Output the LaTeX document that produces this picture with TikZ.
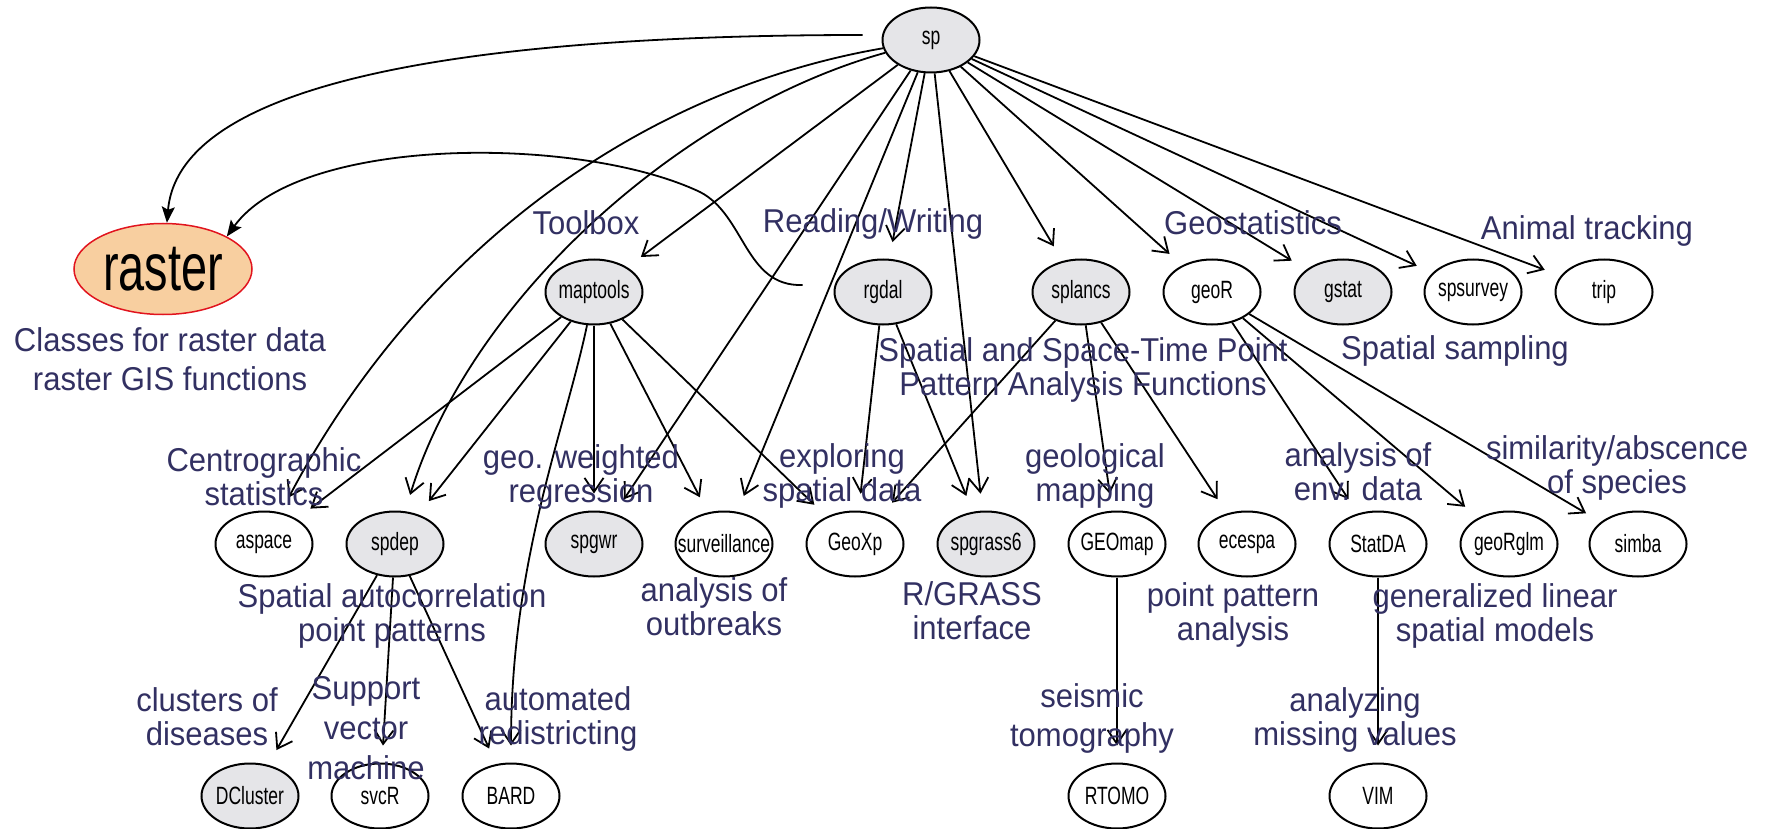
\documentclass[tikz,border=0pt]{standalone}
\usepackage{fontspec}
\setmainfont{Liberation Sans}
\newfontfamily\nodefont[FakeStretch=0.7]{Liberation Sans}
\newfontfamily\lblfont[FakeStretch=0.94]{Liberation Sans}
\usetikzlibrary{shapes.geometric,arrows.meta}
\definecolor{lblblue}{RGB}{50,48,98}
\definecolor{pkggray}{RGB}{229,229,232}
\definecolor{rasterfill}{RGB}{248,207,160}
\definecolor{rasterred}{RGB}{225,20,30}

\begin{document}
\begin{tikzpicture}[x=1pt,y=-1pt,
    pkg/.style={ellipse,draw,line width=2pt,minimum width=97pt,minimum height=65pt,
        inner xsep=-14pt,inner ysep=0pt,font=\nodefont\fontsize{25}{28}\selectfont},
    core/.style={pkg,fill=pkggray},
    lbl/.style={text=lblblue,align=center,inner sep=0pt,font=\lblfont\fontsize{33}{34}\selectfont},
    dep/.style={line width=1.8pt,-{Straight Barb[length=14pt,width=19pt]},shorten >=17pt},
    link/.style={line width=1.8pt,-{Stealth[length=16pt,width=13pt,inset=3pt]}}]
    \useasboundingbox (0,0) rectangle (1769,829);
    % Packages
    \node[core] (sp) at (931,40) {sp};
    \node[ellipse,draw=rasterred,fill=rasterfill,line width=1.5pt,minimum width=178pt,minimum height=91pt,
        inner sep=0pt,font=\nodefont\fontsize{67}{70}\selectfont] (raster) at (163,269) {raster};
    \node[core] (maptools) at (594,292) {maptools};
    \node[core] (rgdal) at (883,292) {rgdal};
    \node[core] (splancs) at (1081,292) {splancs};
    \node[pkg] (geoR) at (1212,292) {geoR};
    \node[core] (gstat) at (1343,292) {gstat};
    \node[pkg] (spsurvey) at (1473,292) {spsurvey};
    \node[pkg] (trip) at (1604,292) {trip};
    \node[pkg] (aspace) at (264,544) {aspace};
    \node[core] (spdep) at (395,544) {spdep};
    \node[core] (spgwr) at (594,544) {spgwr};
    \node[pkg] (surveillance) at (724,544) {surveillance};
    \node[pkg] (GeoXp) at (855,544) {GeoXp};
    \node[core] (spgrass6) at (986,544) {spgrass6};
    \node[pkg] (GEOmap) at (1117,544) {GEOmap};
    \node[pkg] (ecespa) at (1247,544) {ecespa};
    \node[pkg] (StatDA) at (1378,544) {StatDA};
    \node[pkg] (geoRglm) at (1509,544) {geoRglm};
    \node[pkg] (simba) at (1638,544) {simba};
    \node[core] (DCluster) at (250,796) {DCluster};
    \node[pkg] (svcR) at (380,796) {svcR};
    \node[pkg] (BARD) at (511,796) {BARD};
    \node[pkg] (RTOMO) at (1117,796) {RTOMO};
    \node[pkg] (VIM) at (1378,796) {VIM};
    % sp
    \draw[link] ([shift={(-19,-5)}]sp.west) .. controls (520,35) and (180,70) .. (raster);
    \draw[dep] (sp) .. controls (640,90) and (420,250) .. (aspace);
    \draw[dep] (sp) .. controls (680,110) and (470,300) .. (spdep);
    \draw[dep] (sp) -- (maptools);
    \draw[dep] (sp) -- (spgwr);
    \draw[dep] (sp) -- (surveillance);
    \draw[dep] (sp) -- (rgdal);
    \draw[dep] (sp) -- (spgrass6);
    \draw[dep] (sp) -- (splancs);
    \draw[dep] (sp) -- (geoR);
    \draw[dep] (sp) -- (gstat);
    \draw[dep] (sp) -- (spsurvey);
    \draw[dep] (sp) -- (trip);
    % rgdal
    \draw[link] ([shift={(-31,-7)}]rgdal.west) .. controls (745,287) and (745,215) .. (700,192)
        .. controls (580,135) and (300,135) .. (raster.27);
    \draw[dep] (rgdal) -- (GeoXp);
    \draw[dep] (rgdal) -- (spgrass6);
    % maptools
    \draw[dep] (maptools) -- (aspace);
    \draw[dep] (maptools) -- (spdep);
    \draw[dep] (maptools) -- (spgwr);
    \draw[dep] (maptools) -- (surveillance);
    \draw[dep] (maptools) -- (GeoXp);
    \draw[dep] (maptools) .. controls (565,430) and (511,560) .. (BARD);
    % splancs
    \draw[dep] (splancs) -- (GeoXp);
    \draw[dep] (splancs) -- (GEOmap);
    \draw[dep] (splancs) -- (ecespa);
    % geoR
    \draw[dep] (geoR) -- (StatDA);
    \draw[dep] (geoR) -- (geoRglm);
    \draw[dep] (geoR) -- (simba);
    % spdep
    \draw[dep] (spdep) -- (DCluster);
    \draw[dep] (spdep) -- (svcR);
    \draw[dep] (spdep) -- (BARD);
    % third row
    \draw[dep] (GEOmap) -- (RTOMO);
    \draw[dep] (StatDA) -- (VIM);
    % Labels
    \node[lbl] (lraster) at (170,359) {Classes for raster data\\[5pt]raster GIS functions};
    \node[lbl] (ltoolbox) at (586,223) {Toolbox};
    \node[lbl] (lrw) at (873,224) {Reading/Writing};
    \node[lbl] (lgeostat) at (1253,223) {Geostatistics};
    \node[lbl] (ltrack) at (1587,231) {Animal tracking};
    \node[lbl] (lsplancs) at (1083,370) {Spatial and Space-Time Point\\Pattern Analysis Functions};
    \node[lbl] (lsampling) at (1455,351) {Spatial sampling};
    \node[lbl] (laspace) at (264,477) {Centrographic\\statistics};
    \node[lbl] (lspgwr) at (581,477) {geo. weighted\\regression};
    \node[lbl] (lgeoxp) at (842,476) {exploring\\spatial data};
    \node[lbl] (lgeomap) at (1095,476) {geological\\mapping};
    \node[lbl] (lstatda) at (1358,472) {analysis of\\env. data};
    \node[lbl] (lsimba) at (1617,468) {similarity/abscence\\of species};
    \node[lbl] (lspdep) at (392,616) {Spatial autocorrelation\\point patterns};
    \node[lbl] (lsurv) at (714,607) {analysis of\\outbreaks};
    \node[lbl] (lgrass) at (972,611) {R/GRASS\\interface};
    \node[lbl] (lecespa) at (1233,615) {point pattern\\analysis};
    \node[lbl] (lgeorglm) at (1495,616) {generalized linear\\spatial models};
    \node[lbl] (ldcluster) at (207,717) {clusters of\\diseases};
    \node[lbl] (lsvcr) at (366,728) {Support\\[6pt]vector\\[6pt]machine};
    \node[lbl] (lbard) at (558,719) {automated\\redistricting};
    \node[lbl] (lrtomo) at (1092,718) {seismic\\[5pt]tomography};
    \node[lbl] (lvim) at (1355,720) {analyzing\\missing values};
\end{tikzpicture}
\end{document}
